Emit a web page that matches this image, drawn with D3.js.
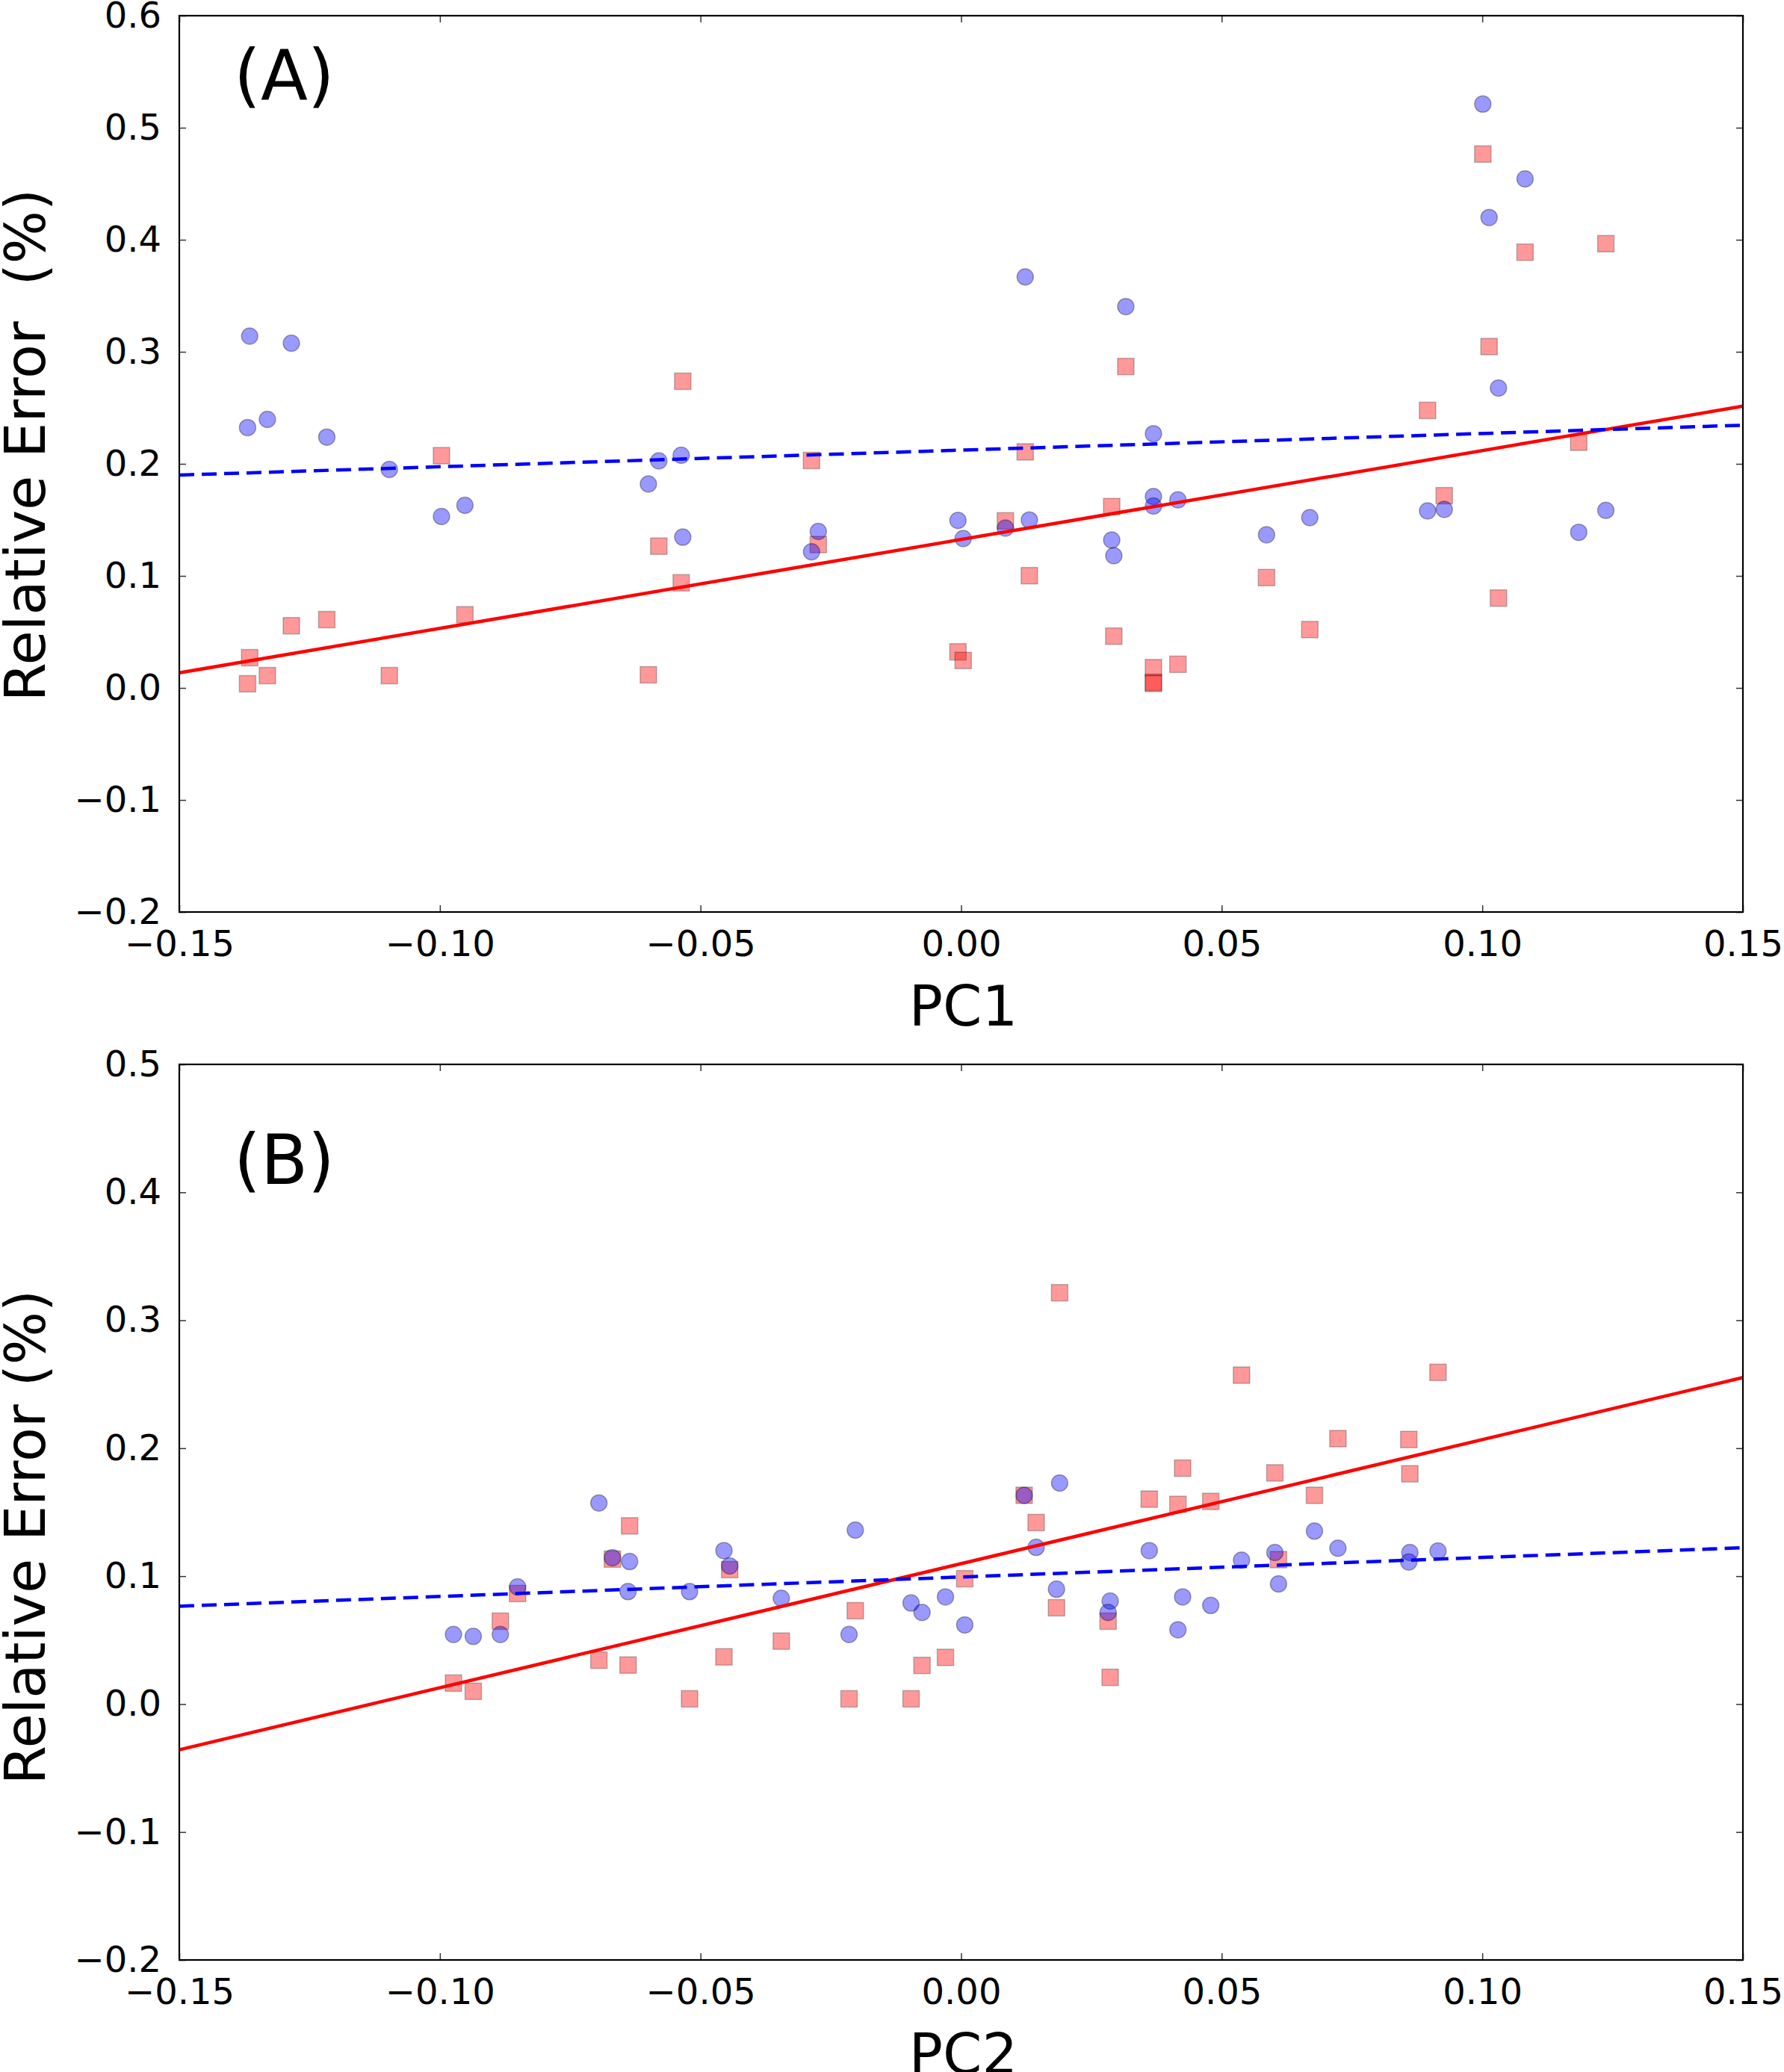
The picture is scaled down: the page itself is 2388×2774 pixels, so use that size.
<!DOCTYPE html>
<html>
<head>
<meta charset="utf-8">
<script src="https://cdn.jsdelivr.net/npm/d3@7"></script>
<style>
  body { margin: 0; background: #fff; }
  svg { display: block; font-family: 'DejaVu Sans', sans-serif; }
</style>
</head>
<body>
<div id="chart"></div>
<script>
// ---- data ----
const xTicks = [-0.15, -0.10, -0.05, 0.00, 0.05, 0.10, 0.15];
const yTicksA = [-0.2, -0.1, 0.0, 0.1, 0.2, 0.3, 0.4, 0.5, 0.6];
const yTicksB = [-0.2, -0.1, 0.0, 0.1, 0.2, 0.3, 0.4, 0.5];

// panel A : PC1
const pc1 = [-0.1365, -0.1369, -0.1331, -0.1285, -0.1217, -0.1097, -0.0997, -0.0952,
  -0.0600, -0.0580, -0.0537, -0.0534, -0.0274, -0.0287,
  0.1001, 0.1082, 0.1013, 0.0123, 0.0316, 0.1031, 0.0369, 0.0369, 0.0369,
  -0.0006, 0.0004, 0.0085, 0.0131, 0.0289, 0.0293, 0.0416, 0.0586, 0.0669,
  0.0895, 0.0927, 0.1185, 0.1237];
const circlesA = [0.314, 0.2324, 0.2397, 0.3077, 0.2239, 0.195, 0.153, 0.163,
  0.182, 0.2027, 0.2077, 0.1346, 0.1397, 0.1215,
  0.5211, 0.4543, 0.4199, 0.3668, 0.3404, 0.2677, 0.2269, 0.1708, 0.1623,
  0.1495, 0.1333, 0.1427, 0.1499, 0.132, 0.118, 0.1678, 0.1367, 0.152,
  0.158, 0.1593, 0.1389, 0.1585];
const squaresA = [0.027, 0.0037, 0.011, 0.0555, 0.061, 0.011, 0.2073, 0.0653,
  0.0117, 0.1265, 0.0938, 0.2737, 0.128, 0.203,
  0.4765, 0.3889, 0.3047, 0.2107, 0.2869, 0.0802, 0.0181, 0.005, 0.004,
  0.0322, 0.0245, 0.1491, 0.1002, 0.1619, 0.0462, 0.0211, 0.0985, 0.0521,
  0.2477, 0.1716, 0.2193, 0.3965];
const fitEnds = [-0.15, 0.15];
const fitBlueA = [0.190, 0.2345];
const fitRedA = [0.0135, 0.2515];

// panel B : PC2
const pc2 = [-0.0695, -0.0203, -0.0455, -0.0669, -0.0636, -0.0444, -0.0851, -0.0639,
  -0.0521, -0.0345, -0.0974, -0.0936, -0.0884, -0.0215,
  0.0189, 0.0121, 0.0678, 0.0144, 0.0361, 0.0915, 0.0861, 0.0602, 0.0723,
  0.0538, 0.0859, 0.0609, 0.0183, -0.0096, -0.003, -0.0075, 0.0286, 0.0282,
  0.0425, 0.0479, 0.0007, 0.0416];
const circlesB = [0.1572, 0.136, 0.12, 0.1144, 0.1114, 0.108, 0.0916, 0.0879,
  0.0879, 0.0827, 0.0544, 0.0529, 0.0544, 0.0544,
  0.1728, 0.1632, 0.1352, 0.1225, 0.12, 0.1196, 0.1185, 0.1185, 0.1218,
  0.1125, 0.111, 0.0939, 0.0898, 0.079, 0.0838, 0.0716, 0.0805, 0.0716,
  0.0838, 0.0771, 0.0619, 0.0581];
const squaresB = [0.0343, 0.073, 0.0369, 0.1133, 0.1393, 0.1051, 0.0864, 0.0305,
  0.0041, 0.0492, 0.0164, 0.01, 0.0648, 0.0041,
  0.3215, 0.1632, 0.1632, 0.1419, 0.1602, 0.2593, 0.18, 0.1807, 0.2075,
  0.2571, 0.2068, 0.1129, 0.0753, 0.0041, 0.0365, 0.0302, 0.0209, 0.0648,
  0.1844, 0.1584, 0.098, 0.1561];
const fitBlueB = [0.0765, 0.1222];
const fitRedB = [-0.0357, 0.2552];

// ---- drawing ----
const W = 2388, H = 2774;
const svg = d3.select('#chart').append('svg')
    .attr('width', W)
    .attr('height', H);

const panels = [
  {
    top: 21, bottom: 1221, yDomain: [-0.2, 0.6], yTicks: yTicksA,
    xs: pc1, circles: circlesA, squares: squaresA, blue: fitBlueA, red: fitRedA,
    tag: '(A)', tagY: 133, xLabel: 'PC1', yLabel: 'Relative Error  (%)', yLabelY: 596,
  },
  {
    top: 1425, bottom: 2624, yDomain: [-0.2, 0.5], yTicks: yTicksB,
    xs: pc2, circles: circlesB, squares: squaresB, blue: fitBlueB, red: fitRedB,
    tag: '(B)', tagY: 1585, xLabel: 'PC2', yLabel: 'Relative Error (%)', yLabelY: 2058,
  },
];

const left = 240, right = 2333;

panels.forEach((p) => {
  const x = d3.scaleLinear().domain([-0.15, 0.15]).range([left, right]);
  const y = d3.scaleLinear().domain(p.yDomain).range([p.bottom, p.top]);
  const g = svg.append('g');

  // markers: squares first, circles over them
  const pts = p.xs.map((v, i) => ({ x: v, c: p.circles[i], s: p.squares[i] }));
  const side = 22;
  g.append('g').selectAll('rect')
      .data(pts)
      .join('rect')
      .attr('x', (d) => x(d.x) - side / 2)
      .attr('y', (d) => y(d.s) - side / 2)
      .attr('width', side)
      .attr('height', side)
      .attr('fill', 'red')
      .attr('fill-opacity', 0.4)
      .attr('stroke', '#000')
      .attr('stroke-opacity', 0.25)
      .attr('stroke-width', 1.5);

  g.append('g').selectAll('circle')
      .data(pts)
      .join('circle')
      .attr('cx', (d) => x(d.x))
      .attr('cy', (d) => y(d.c))
      .attr('r', 11)
      .attr('fill', 'blue')
      .attr('fill-opacity', 0.4)
      .attr('stroke', '#000')
      .attr('stroke-opacity', 0.3)
      .attr('stroke-width', 1.5);

  // fit lines
  const line = d3.line().x((d) => x(d[0])).y((d) => y(d[1]));
  g.append('path')
      .attr('d', line(fitEnds.map((v, i) => [v, p.red[i]])))
      .attr('fill', 'none')
      .attr('stroke', 'red')
      .attr('stroke-width', 4.5);
  g.append('path')
      .attr('d', line(fitEnds.map((v, i) => [v, p.blue[i]])))
      .attr('fill', 'none')
      .attr('stroke', 'blue')
      .attr('stroke-width', 4.5)
      .attr('stroke-dasharray', '20,10');

  // axes (inward ticks on all four sides)
  const tickLen = 9;
  const xAxis = d3.axisBottom(x).tickValues(xTicks).tickFormat(d3.format('.2f'))
      .tickSizeInner(-tickLen).tickSizeOuter(0).tickPadding(25);
  const yAxis = d3.axisLeft(y).tickValues(p.yTicks).tickFormat(d3.format('.1f'))
      .tickSizeInner(-tickLen).tickSizeOuter(0).tickPadding(24);
  const xTop = d3.axisTop(x).tickValues(xTicks).tickFormat('').tickSizeInner(-tickLen).tickSizeOuter(0);
  const yRight = d3.axisRight(y).tickValues(p.yTicks).tickFormat('').tickSizeInner(-tickLen).tickSizeOuter(0);

  const axes = [
    g.append('g').attr('transform', `translate(0,${p.bottom})`).call(xAxis),
    g.append('g').attr('transform', `translate(${left},0)`).call(yAxis),
    g.append('g').attr('transform', `translate(0,${p.top})`).call(xTop),
    g.append('g').attr('transform', `translate(${right},0)`).call(yRight),
  ];
  axes.forEach((a) => {
    a.select('.domain').remove();
    a.selectAll('.tick line').attr('stroke', '#333').attr('stroke-width', 1.5);
    a.selectAll('.tick text')
        .attr('fill', '#000')
        .style('font-size', '48px')
        .style('font-family', "'DejaVu Sans', sans-serif");
  });

  // frame
  g.append('rect')
      .attr('x', left)
      .attr('y', p.top)
      .attr('width', right - left)
      .attr('height', p.bottom - p.top)
      .attr('fill', 'none')
      .attr('stroke', '#000')
      .attr('stroke-width', 2.2);

  // texts
  g.append('text')
      .attr('x', 313)
      .attr('y', p.tagY)
      .style('font-size', '92px')
      .text(p.tag);

  g.append('text')
      .attr('x', (left + right) / 2 + 3)
      .attr('y', p.bottom + 152)
      .attr('text-anchor', 'middle')
      .style('font-size', '75px')
      .text(p.xLabel);

  g.append('text')
      .attr('transform', `translate(60,${p.yLabelY}) rotate(-90)`)
      .attr('text-anchor', 'middle')
      .style('font-size', '75px')
      .style('white-space', 'pre')
      .text(p.yLabel);
});
</script>
</body>
</html>
